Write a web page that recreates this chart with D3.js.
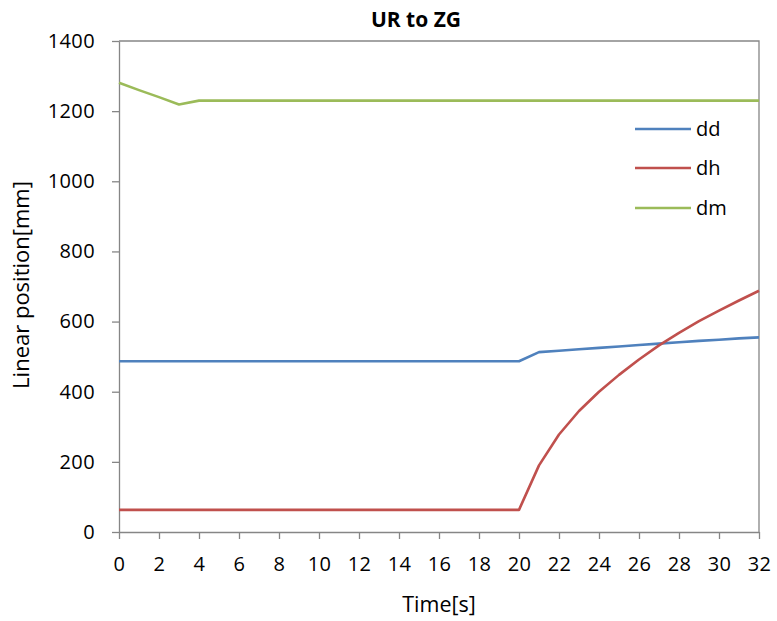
<!DOCTYPE html>
<html>
<head>
<meta charset="utf-8">
<script src="https://cdn.jsdelivr.net/npm/d3@7"></script>
<style>
  html, body { margin: 0; padding: 0; background: #fff; }
  svg { display: block; }
  text { font-family: "Open Sans", Lato, sans-serif; fill: #000; }
</style>
</head>
<body>
<svg id="chart" width="777" height="621"></svg>
<script>
// ---- data ----
const times = d3.range(0, 33); // 0..32 s
const dd = [487,487,487,487,487,487,487,487,487,487,487,487,487,487,487,487,487,487,487,487,487,
            513,517,521,525,529,533,537,541,545,548,552,555];
const dh = [63,63,63,63,63,63,63,63,63,63,63,63,63,63,63,63,63,63,63,63,63,
            190,278,345,400,448,492,532,568,601,631,660,688];
const dm = [1281,1260,1240,1219,1230,1230,1230,1230,1230,1230,1230,1230,1230,1230,1230,1230,1230,
            1230,1230,1230,1230,1230,1230,1230,1230,1230,1230,1230,1230,1230,1230,1230,1230];
const seriesNames = ["dd", "dh", "dm"];
const seriesColors = ["#4F81BD", "#C0504D", "#9BBB59"];
const xTicks = d3.range(0, 33, 2);
const yTicks = [0, 200, 400, 600, 800, 1000, 1200, 1400];
const title = "UR to ZG";
const xTitle = "Time[s]";
const yTitle = "Linear position[mm]";

// ---- layout ----
const svg = d3.select("#chart");
const mLeft = 119, mRight = 759, mTop = 41, mBottom = 532;
const x = d3.scaleLinear().domain([0, 32]).range([mLeft, mRight]);
const y = d3.scaleLinear().domain([0, 1400]).range([mBottom, mTop]);
const axisColor = "#868686";
const fontFam = "'Open Sans', Lato, sans-serif";

// plot border (top/right)
svg.append("path")
  .attr("d", `M${mLeft},${mTop}H${mRight}V${mBottom}`)
  .attr("fill", "none").attr("stroke", axisColor).attr("stroke-width", 1.3);

// axes
const gx = svg.append("g").attr("transform", `translate(0,${mBottom})`)
  .call(d3.axisBottom(x).tickValues(xTicks).tickFormat(d3.format("d"))
    .tickSize(7).tickSizeOuter(0).tickPadding(18));
const gy = svg.append("g").attr("transform", `translate(${mLeft},0)`)
  .call(d3.axisLeft(y).tickValues(yTicks).tickFormat(d3.format("d"))
    .tickSize(7).tickSizeOuter(0).tickPadding(17));
[gx, gy].forEach(g => {
  g.attr("font-family", fontFam).attr("font-size", 20);
  g.select(".domain").attr("stroke", axisColor).attr("stroke-width", 1.3);
  g.selectAll(".tick line").attr("stroke", axisColor).attr("stroke-width", 1.3);
  g.selectAll(".tick text").attr("fill", "#000").attr("letter-spacing", 0.4);
});
gx.selectAll(".tick text").attr("dy", "0.71em");

// lines
const all = [dd, dh, dm];
const line = d3.line().x((d, i) => x(times[i])).y(d => y(d));
all.forEach((s, k) => {
  svg.append("path").datum(s)
    .attr("d", line)
    .attr("fill", "none")
    .attr("stroke", seriesColors[k])
    .attr("stroke-width", 2.6)
    .attr("stroke-linejoin", "round");
});

// legend
const legY = [129, 168, 208];
seriesNames.forEach((n, k) => {
  svg.append("line")
    .attr("x1", 635).attr("x2", 691).attr("y1", legY[k]).attr("y2", legY[k])
    .attr("stroke", seriesColors[k]).attr("stroke-width", 2.6);
  svg.append("text").attr("x", 696).attr("y", legY[k]).attr("dy", "0.35em")
    .attr("font-size", 20).text(n);
});

// titles
svg.append("text").attr("x", 416).attr("y", 27).attr("text-anchor", "middle")
  .attr("font-size", 21).attr("font-weight", "bold").text(title);
svg.append("text").attr("x", 439).attr("y", 612).attr("text-anchor", "middle")
  .attr("font-size", 21.5).text(xTitle);
svg.append("text").attr("transform", "translate(29,285) rotate(-90)")
  .attr("text-anchor", "middle").attr("font-size", 22).text(yTitle);
</script>
</body>
</html>
